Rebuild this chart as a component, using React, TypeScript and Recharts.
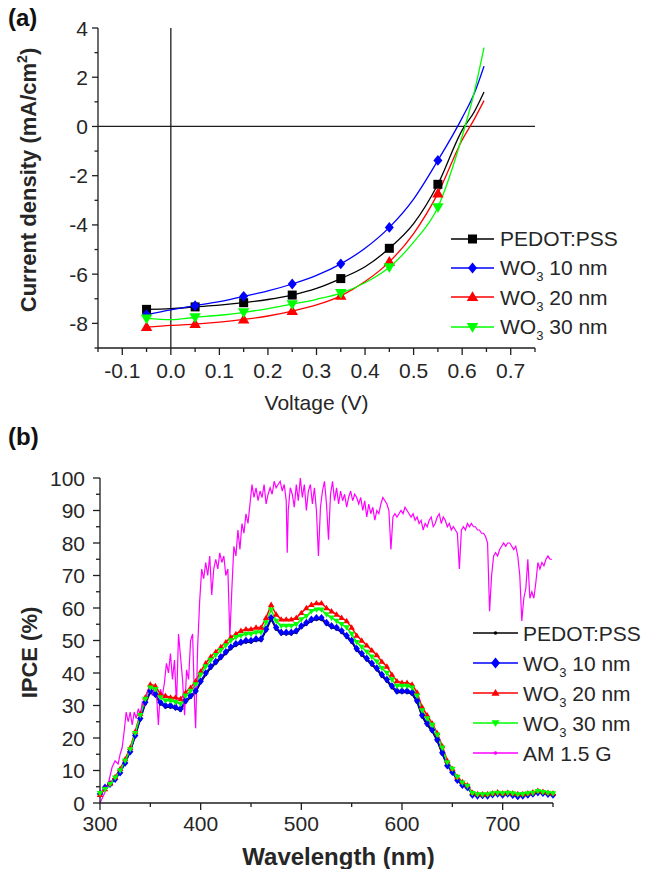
import React from 'react';
import { LineChart, Line, XAxis, YAxis, ReferenceLine, Legend, Label } from 'recharts';

const FONT = "'Liberation Sans', Arial, Helvetica, sans-serif";
const TXT = '#262626';
const AX = '#1e1e1e';

// ---------- Panel (a): J-V curves ----------
const voltage = [-0.05, 0, 0.05, 0.1, 0.15, 0.2, 0.25, 0.3, 0.35, 0.4, 0.45, 0.5, 0.55, 0.6, 0.625, 0.645];
const jPedot = [-7.43, -7.4, -7.33, -7.26, -7.16, -7.03, -6.85, -6.58, -6.18, -5.7, -4.95, -3.95, -2.35, -0.15, 0.6, 1.4];
const jWo10 = [-7.65, -7.45, -7.28, -7.12, -6.9, -6.68, -6.4, -6.05, -5.58, -4.95, -4.1, -2.95, -1.38, 0.35, 1.35, 2.45];
const jWo20 = [-8.15, -8.08, -8.03, -7.95, -7.84, -7.7, -7.5, -7.25, -6.88, -6.3, -5.5, -4.35, -2.72, -0.55, 0.3, 1.05];
const jWo30 = [-7.8, -7.85, -7.75, -7.67, -7.55, -7.4, -7.22, -7.02, -6.77, -6.35, -5.72, -4.7, -3.28, -0.4, 1.4, 3.2];
const jvMarkerVoltages = [-0.05, 0.05, 0.15, 0.25, 0.35, 0.45, 0.55];
const jvXTicks = [-0.15, -0.1, -0.05, 0, 0.05, 0.1, 0.15, 0.2, 0.25, 0.3, 0.35, 0.4, 0.45, 0.5, 0.55, 0.6, 0.65, 0.7, 0.75];
const jvYTicks = [-9, -8, -7, -6, -5, -4, -3, -2, -1, 0, 1, 2, 3, 4];

// ---------- Panel (b): IPCE ----------
const wavelength = [
  300, 305, 310, 315, 320, 325, 330, 335, 340, 345,
  350, 355, 360, 365, 370, 375, 380, 385, 390, 395,
  400, 405, 410, 415, 420, 425, 430, 435, 440, 445,
  450, 455, 460, 465, 470, 475, 480, 485, 490, 495,
  500, 505, 510, 515, 520, 525, 530, 535, 540, 545,
  550, 555, 560, 565, 570, 575, 580, 585, 590, 595,
  600, 605, 610, 615, 620, 625, 630, 635, 640, 645,
  650, 655, 660, 665, 670, 675, 680, 685, 690, 695,
  700, 705, 710, 715, 720, 725, 730, 735, 740, 745, 750,
];
const ipcePedot = [
  2.6, 4.2, 5.6, 7.4, 9.4, 12.4, 15.8, 20.6, 25.6, 30.5,
  34, 33, 30.5, 29.5, 29.5, 29, 28.5, 31, 32.5, 34,
  37, 39.5, 41.5, 43, 44.5, 46, 47.5, 48.5, 49, 49.5,
  49.5, 50, 50, 53, 56.5, 53.5, 52, 52, 52, 52.5,
  54, 55, 56, 56.5, 56.5, 55, 54, 53.5, 52.5, 51,
  49.5, 47, 45.5, 44, 42.5, 41, 39, 37.5, 35.5, 34,
  34, 34, 33.5, 31, 26.5, 24, 22, 19, 15, 11.5,
  9.5, 7, 5.5, 4.8, 2.6, 2.4, 2.4, 2.4, 2.7, 2.9,
  2.7, 2.9, 2.6, 2.3, 2.4, 2.6, 2.9, 3.4, 3.1, 2.9, 2.7,
];
const ipceWo10 = [
  2.8, 4.8, 5.8, 7.3, 9.3, 12.3, 15.8, 20.8, 26, 31,
  34.5, 33.5, 31, 30, 30, 29.5, 29, 31.5, 33, 34.5,
  37.5, 40, 42, 43.5, 45, 46.5, 48, 49, 49.5, 50,
  50, 50.5, 50.5, 53.5, 57, 54, 52.5, 52.5, 52.5, 53,
  54.5, 55.5, 56.5, 57, 57, 55.5, 54.5, 54, 53, 51.5,
  50, 47.5, 46, 44.5, 43, 41.5, 39.5, 38, 36, 34.5,
  34.5, 34.5, 34, 31.5, 27, 24.5, 22.5, 19.5, 15.5, 11.5,
  9.5, 7, 5.5, 4.8, 2.5, 2.2, 2.3, 2.2, 2.6, 2.8,
  2.5, 2.8, 2.4, 2, 2.2, 2.5, 2.8, 3.2, 3, 2.7, 2.5,
];
const ipceWo20 = [
  2.5, 4.3, 6, 8, 10.5, 13.5, 17, 22, 27.5, 32.5,
  36.5, 36, 33.5, 33, 32.5, 32.5, 32, 34, 35.5, 37.5,
  40.5, 43, 45, 46.5, 48, 49.5, 51, 52, 53, 53.5,
  53.5, 54, 54, 57, 61, 58, 56.5, 56.5, 56.5, 57,
  58.5, 60, 61, 61.5, 61.5, 60, 59, 58, 57, 56,
  54, 51.5, 50, 48.5, 47, 45.5, 43.5, 42, 39.5, 37.5,
  37, 37, 36.5, 34, 29.5, 27, 24.5, 21.5, 17.5, 13,
  10.5, 8, 6.5, 5.5, 3.2, 2.8, 2.7, 2.8, 3, 3.3,
  3, 3.2, 3, 2.8, 2.8, 3, 3.3, 3.8, 3.5, 3.2, 3,
];
const ipceWo30 = [
  3, 4.2, 5.8, 7.8, 10, 13, 16.5, 21.5, 27, 32,
  35.5, 35, 32.5, 31.5, 31.5, 31, 30.5, 33, 34.5, 36.5,
  39.5, 42, 44, 45.5, 47, 48.5, 50, 51, 51.5, 52,
  52, 52.5, 52.5, 55.5, 59.5, 56, 54.5, 54.5, 54.5, 55,
  56.5, 57.5, 59, 59.5, 59.5, 58, 57, 56, 55, 54,
  52, 49.5, 48, 46.5, 45, 43.5, 41.5, 40, 38, 36,
  36, 36, 35.5, 33, 28.5, 26, 24, 21, 17, 12.5,
  10.5, 8, 6.2, 5.2, 3, 2.6, 2.6, 2.6, 2.9, 3.1,
  2.9, 3.1, 2.9, 2.6, 2.7, 2.9, 3.1, 3.6, 3.3, 3.1, 2.9,
];
const amWavelength = [
  300, 303, 306, 309, 312, 315, 318, 320, 322, 324, 326, 328, 330, 332, 334, 336, 338, 340, 342, 344,
  346, 348, 350, 352, 354, 356, 358, 360, 362, 364, 366, 368, 370, 372, 374, 376, 378, 380, 382, 384,
  386, 388, 390, 392, 394, 395, 397, 399, 401, 403, 405, 407, 409, 411, 413, 415, 417, 419, 421, 423,
  425, 427, 429, 431, 433, 435, 437, 439, 441, 443, 445, 447, 449, 451, 453, 455, 457, 459, 461, 463,
  465, 467, 469, 471, 473, 475, 477, 479, 481, 483, 485, 486, 487, 489, 491, 493, 495, 497, 499, 501,
  503, 505, 507, 509, 511, 513, 515, 517, 519, 521, 523, 525, 527, 529, 531, 533, 535, 537, 539, 541,
  543, 545, 547, 549, 551, 553, 555, 557, 559, 561, 563, 565, 567, 569, 571, 573, 575, 577, 579, 581,
  583, 585, 587, 589, 591, 593, 595, 597, 599, 601, 603, 605, 607, 609, 611, 613, 615, 617, 619, 621,
  623, 625, 627, 629, 631, 633, 635, 637, 639, 641, 643, 645, 647, 649, 651, 653, 655, 657, 659, 661,
  663, 665, 667, 669, 671, 673, 675, 677, 679, 681, 683, 685, 687, 689, 691, 693, 695, 697, 699, 701,
  703, 705, 707, 709, 711, 713, 715, 717, 719, 721, 723, 725, 727, 729, 731, 733, 735, 737, 739, 741,
  743, 745, 747, 749,
];
const amValue = [
  0, 2, 4, 7, 11, 13, 12, 15, 17, 22, 28, 25, 28, 24, 28, 26, 29, 27, 31, 30,
  33, 35, 36, 33, 36, 34, 24, 35, 33, 37, 43, 40, 46, 38, 44, 30, 52, 45, 38, 27,
  41, 38, 50, 52, 30, 23, 48, 62, 72, 69, 74, 70, 76, 64, 72, 75, 72, 77, 74, 76,
  70, 72, 51, 66, 79, 76, 84, 78, 86, 83, 89, 86, 92, 98, 94, 97, 93, 96, 94, 98,
  92, 95, 97, 95, 99, 97, 98, 99, 96, 98, 93, 77, 90, 97, 95, 91, 98, 93, 100, 94,
  98, 90, 96, 98, 92, 97, 90, 76, 91, 96, 99, 92, 81, 95, 99, 93, 97, 92, 96, 93,
  95, 91, 94, 96, 93, 95, 94, 92, 94, 90, 93, 88, 92, 89, 91, 87, 90, 89, 92, 94,
  93, 92, 90, 78, 88, 89, 88, 89, 90, 89, 91, 90, 89, 88, 89, 87, 88, 86, 87, 84,
  86, 85, 87, 88, 85, 86, 88, 89, 86, 88, 87, 85, 86, 84, 85, 84, 83, 72, 84, 85,
  84, 86, 85, 86, 85, 85, 84, 84, 83, 83, 82, 80, 59, 70, 76, 77, 76, 78, 79, 80,
  79, 80, 80, 79, 78, 79, 76, 70, 56, 63, 66, 75, 63, 65, 63, 68, 74, 72, 74, 73,
  75, 76, 75, 75,
];
const ipceXTicks = [300, 350, 400, 450, 500, 550, 600, 650, 700, 750];
const ipceYTicks = [0, 5, 10, 15, 20, 25, 30, 35, 40, 45, 50, 55, 60, 65, 70, 75, 80, 85, 90, 95, 100];

// ---------- helpers ----------
type Kind = 'square' | 'diamond' | 'up' | 'down' | 'dot';

function Marker({ kind, cx, cy, s, color }: { kind: Kind; cx: number; cy: number; s: number; color: string }) {
  if (kind === 'square') return <rect x={cx - s} y={cy - s} width={2 * s} height={2 * s} fill={color} />;
  if (kind === 'diamond')
    return <polygon points={`${cx},${cy - s * 1.2} ${cx + s},${cy} ${cx},${cy + s * 1.2} ${cx - s},${cy}`} fill={color} />;
  if (kind === 'up')
    return <polygon points={`${cx},${cy - s * 1.15} ${cx + s * 1.15},${cy + s * 0.8} ${cx - s * 1.15},${cy + s * 0.8}`} fill={color} />;
  if (kind === 'down')
    return <polygon points={`${cx},${cy + s * 1.15} ${cx + s * 1.15},${cy - s * 0.8} ${cx - s * 1.15},${cy - s * 0.8}`} fill={color} />;
  return <circle cx={cx} cy={cy} r={s} fill={color} />;
}

type TickCfg = {
  orient: 'x' | 'y';
  isMajor: (v: number) => boolean;
  major: number;
  minor: number;
  gap: number;
  fontSize: number;
  fmt: (v: number) => string;
};

const makeTick = (cfg: TickCfg) => (props: any) => {
  const { x, y, payload, index } = props;
  const v = payload.value as number;
  const maj = cfg.isMajor(v);
  const len = maj ? cfg.major : cfg.minor;
  if (cfg.orient === 'x') {
    return (
      <g key={`tx${index}`}>
        <line x1={x} x2={x} y1={y} y2={y + len} stroke={AX} strokeWidth={1.3} />
        {maj && (
          <text x={x} y={y + cfg.gap} textAnchor="middle" fontSize={cfg.fontSize} fill={TXT} fontFamily={FONT}>
            {cfg.fmt(v)}
          </text>
        )}
      </g>
    );
  }
  return (
    <g key={`ty${index}`}>
      <line x1={x} x2={x - len} y1={y} y2={y} stroke={AX} strokeWidth={1.3} />
      {maj && (
        <text x={x - cfg.gap} y={y + cfg.fontSize * 0.36} textAnchor="end" fontSize={cfg.fontSize} fill={TXT} fontFamily={FONT}>
          {cfg.fmt(v)}
        </text>
      )}
    </g>
  );
};

const near = (a: number, b: number) => Math.abs(a - b) < 1e-6;

const jvTable = voltage.map((v, i) => ({ v, pedot: jPedot[i], wo10: jWo10[i], wo20: jWo20[i], wo30: jWo30[i] }));

const jvDot = (kind: Kind, color: string, s: number) => (p: any) => {
  const show = jvMarkerVoltages.some((m) => near(m, p.payload.v));
  if (!show || p.cx == null || p.cy == null) return <g key={`jd${p.index}`} />;
  return (
    <g key={`jd${p.index}`}>
      <Marker kind={kind} cx={p.cx} cy={p.cy} s={s} color={color} />
    </g>
  );
};

const ipceDot = (kind: Kind, color: string, s: number) => (p: any) => {
  if (p.cx == null || p.cy == null) return <g key={`id${p.index}`} />;
  return (
    <g key={`id${p.index}`}>
      <Marker kind={kind} cx={p.cx} cy={p.cy} s={s} color={color} />
    </g>
  );
};

const seriesOf = (xs: number[], ys: number[]) => xs.map((w, i) => ({ w, y: ys[i] }));

type LegendItem = { kind: Kind; color: string; s: number; main: string; sub?: string; rest?: string };

const jvLegend: LegendItem[] = [
  { kind: 'square', color: '#000000', s: 4.5, main: 'PEDOT:PSS' },
  { kind: 'diamond', color: '#0000ff', s: 4.5, main: 'WO', sub: '3', rest: ' 10 nm' },
  { kind: 'up', color: '#ff0000', s: 5, main: 'WO', sub: '3', rest: ' 20 nm' },
  { kind: 'down', color: '#00ff00', s: 5, main: 'WO', sub: '3', rest: ' 30 nm' },
];
const ipceLegend: LegendItem[] = [
  { kind: 'dot', color: '#000000', s: 1.8, main: 'PEDOT:PSS' },
  { kind: 'diamond', color: '#0000ff', s: 4.5, main: 'WO', sub: '3', rest: ' 10 nm' },
  { kind: 'up', color: '#ff0000', s: 3.5, main: 'WO', sub: '3', rest: ' 20 nm' },
  { kind: 'down', color: '#00ff00', s: 3.5, main: 'WO', sub: '3', rest: ' 30 nm' },
  { kind: 'dot', color: '#ff00ff', s: 1.8, main: 'AM 1.5 G' },
];

const legendContent = (items: LegendItem[], lineW: number, rowH: number, gap: number) => () => (
  <div style={{ fontFamily: FONT, fontSize: 21, color: TXT, whiteSpace: 'nowrap' }}>
    {items.map((it, i) => (
      <div key={i} style={{ height: rowH, display: 'flex', alignItems: 'center' }}>
        <svg width={lineW} height={20} style={{ display: 'block', marginRight: gap }}>
          <line x1={0} x2={lineW} y1={10} y2={10} stroke={it.color} strokeWidth={1.6} />
          <Marker kind={it.kind} cx={lineW / 2} cy={10} s={it.s} color={it.color} />
        </svg>
        <span style={{ lineHeight: '21px' }}>
          {it.main}
          {it.sub && <sub style={{ fontSize: 13, verticalAlign: -6, lineHeight: 0 }}>{it.sub}</sub>}
          {it.rest}
        </span>
      </div>
    ))}
  </div>
);

const panelLabel: React.CSSProperties = {
  position: 'absolute',
  fontFamily: FONT,
  fontWeight: 'bold',
  fontSize: 24,
  color: '#111',
  lineHeight: '24px',
};

export default function App() {
  return (
    <div style={{ position: 'absolute', left: 0, top: 0, width: 645, height: 869, background: '#fff', overflow: 'hidden' }}>
      <div style={{ ...panelLabel, left: 8, top: 6 }}>(a)</div>
      <div style={{ ...panelLabel, left: 8, top: 425 }}>(b)</div>

      <div style={{ position: 'absolute', left: 0, top: 0 }}>
        <LineChart width={645} height={420} data={jvTable} margin={{ top: 28, right: 110, bottom: 0, left: 0 }}>
          <XAxis
            type="number"
            dataKey="v"
            domain={[-0.15, 0.75]}
            ticks={jvXTicks}
            interval={0}
            tickSize={0}
            tickMargin={0}
            tickLine={false}
            axisLine={{ stroke: AX, strokeWidth: 1.3 }}
            height={72}
            tick={makeTick({
              orient: 'x',
              isMajor: (v) => near(v * 10, Math.round(v * 10)),
              major: 7,
              minor: 4,
              gap: 30,
              fontSize: 21,
              fmt: (v) => v.toFixed(1),
            })}
          >
            <Label
              content={(p: any) => {
                const vb = p.viewBox;
                return (
                  <text x={vb.x + vb.width / 2} y={vb.y + 62} textAnchor="middle" fontSize={21} fill={TXT} fontFamily={FONT}>
                    Voltage (V)
                  </text>
                );
              }}
            />
          </XAxis>
          <YAxis
            type="number"
            domain={[-9, 4]}
            ticks={jvYTicks}
            interval={0}
            tickSize={0}
            tickMargin={0}
            tickLine={false}
            axisLine={{ stroke: AX, strokeWidth: 1.3 }}
            width={98}
            tick={makeTick({
              orient: 'y',
              isMajor: (v) => v % 2 === 0,
              major: 6,
              minor: 3.5,
              gap: 10,
              fontSize: 21,
              fmt: (v) => String(v),
            })}
          >
            <Label
              content={(p: any) => {
                const vb = p.viewBox;
                const cx = vb.x + 36;
                const cy = vb.y + vb.height / 2 - 8;
                return (
                  <text x={cx} y={cy} transform={`rotate(-90 ${cx} ${cy})`} textAnchor="middle" fontSize={22} fontWeight="bold" fill={TXT} fontFamily={FONT}>
                    Current density (mA/cm<tspan dy={-9} fontSize={14}>2</tspan>
                    <tspan dy={9}>)</tspan>
                  </text>
                );
              }}
            />
          </YAxis>
          <ReferenceLine x={0} stroke={AX} strokeWidth={1.3} />
          <ReferenceLine y={0} stroke={AX} strokeWidth={1.3} />
          <Line type="monotone" dataKey="pedot" stroke="#000000" strokeWidth={1.3} isAnimationActive={false} dot={jvDot('square', '#000000', 4.5)} activeDot={false} />
          <Line type="monotone" dataKey="wo10" stroke="#0000ff" strokeWidth={1.3} isAnimationActive={false} dot={jvDot('diamond', '#0000ff', 4.5)} activeDot={false} />
          <Line type="monotone" dataKey="wo20" stroke="#ff0000" strokeWidth={1.3} isAnimationActive={false} dot={jvDot('up', '#ff0000', 5)} activeDot={false} />
          <Line type="monotone" dataKey="wo30" stroke="#00ff00" strokeWidth={1.3} isAnimationActive={false} dot={jvDot('down', '#00ff00', 5)} activeDot={false} />
          <Legend
            layout="vertical"
            align="center"
            verticalAlign="middle"
            wrapperStyle={{ left: 451, top: 224, width: 'auto' }}
            content={legendContent(jvLegend, 43, 29.3, 6)}
          />
        </LineChart>
      </div>

      <div style={{ position: 'absolute', left: 0, top: 420 }}>
        <LineChart width={645} height={449} margin={{ top: 58, right: 92, bottom: 0, left: 0 }}>
          <XAxis
            type="number"
            dataKey="w"
            domain={[300, 750]}
            ticks={ipceXTicks}
            interval={0}
            tickSize={0}
            tickMargin={0}
            tickLine={false}
            axisLine={{ stroke: AX, strokeWidth: 1.3 }}
            height={66}
            allowDuplicatedCategory={false}
            tick={makeTick({
              orient: 'x',
              isMajor: (v) => v % 100 === 0,
              major: 7,
              minor: 4,
              gap: 28,
              fontSize: 21,
              fmt: (v) => String(v),
            })}
          >
            <Label
              content={(p: any) => {
                const vb = p.viewBox;
                return (
                  <text x={vb.x + vb.width / 2 + 12} y={vb.y + 62} textAnchor="middle" fontSize={24} fontWeight="bold" fill={TXT} fontFamily={FONT}>
                    Wavelength (nm)
                  </text>
                );
              }}
            />
          </XAxis>
          <YAxis
            type="number"
            domain={[0, 100]}
            ticks={ipceYTicks}
            interval={0}
            tickSize={0}
            tickMargin={0}
            tickLine={false}
            axisLine={{ stroke: AX, strokeWidth: 1.3 }}
            width={100}
            tick={makeTick({
              orient: 'y',
              isMajor: (v) => v % 10 === 0,
              major: 7,
              minor: 4,
              gap: 15,
              fontSize: 21,
              fmt: (v) => String(v),
            })}
          >
            <Label
              content={(p: any) => {
                const vb = p.viewBox;
                const cx = vb.x + 37;
                const cy = vb.y + vb.height / 2 + 12;
                return (
                  <text x={cx} y={cy} transform={`rotate(-90 ${cx} ${cy})`} textAnchor="middle" fontSize={22} fontWeight="bold" fill={TXT} fontFamily={FONT}>
                    IPCE (%)
                  </text>
                );
              }}
            />
          </YAxis>
          <Line data={seriesOf(wavelength, ipcePedot)} dataKey="y" type="linear" stroke="#000000" strokeWidth={1.5} isAnimationActive={false} dot={ipceDot('dot', '#000000', 1.6)} activeDot={false} />
          <Line data={seriesOf(wavelength, ipceWo10)} dataKey="y" type="linear" stroke="#0000ff" strokeWidth={1.5} isAnimationActive={false} dot={ipceDot('diamond', '#0000ff', 3.2)} activeDot={false} />
          <Line data={seriesOf(wavelength, ipceWo20)} dataKey="y" type="linear" stroke="#ff0000" strokeWidth={1.5} isAnimationActive={false} dot={ipceDot('up', '#ff0000', 2.8)} activeDot={false} />
          <Line data={seriesOf(wavelength, ipceWo30)} dataKey="y" type="linear" stroke="#00ff00" strokeWidth={1.5} isAnimationActive={false} dot={ipceDot('down', '#00ff00', 2.8)} activeDot={false} />
          <Line data={seriesOf(amWavelength, amValue)} dataKey="y" type="linear" stroke="#ff00ff" strokeWidth={1.2} isAnimationActive={false} dot={false} activeDot={false} />
          <Legend
            layout="vertical"
            align="center"
            verticalAlign="middle"
            wrapperStyle={{ left: 473, top: 198, width: 'auto' }}
            content={legendContent(ipceLegend, 45, 30, 5)}
          />
        </LineChart>
      </div>
    </div>
  );
}
